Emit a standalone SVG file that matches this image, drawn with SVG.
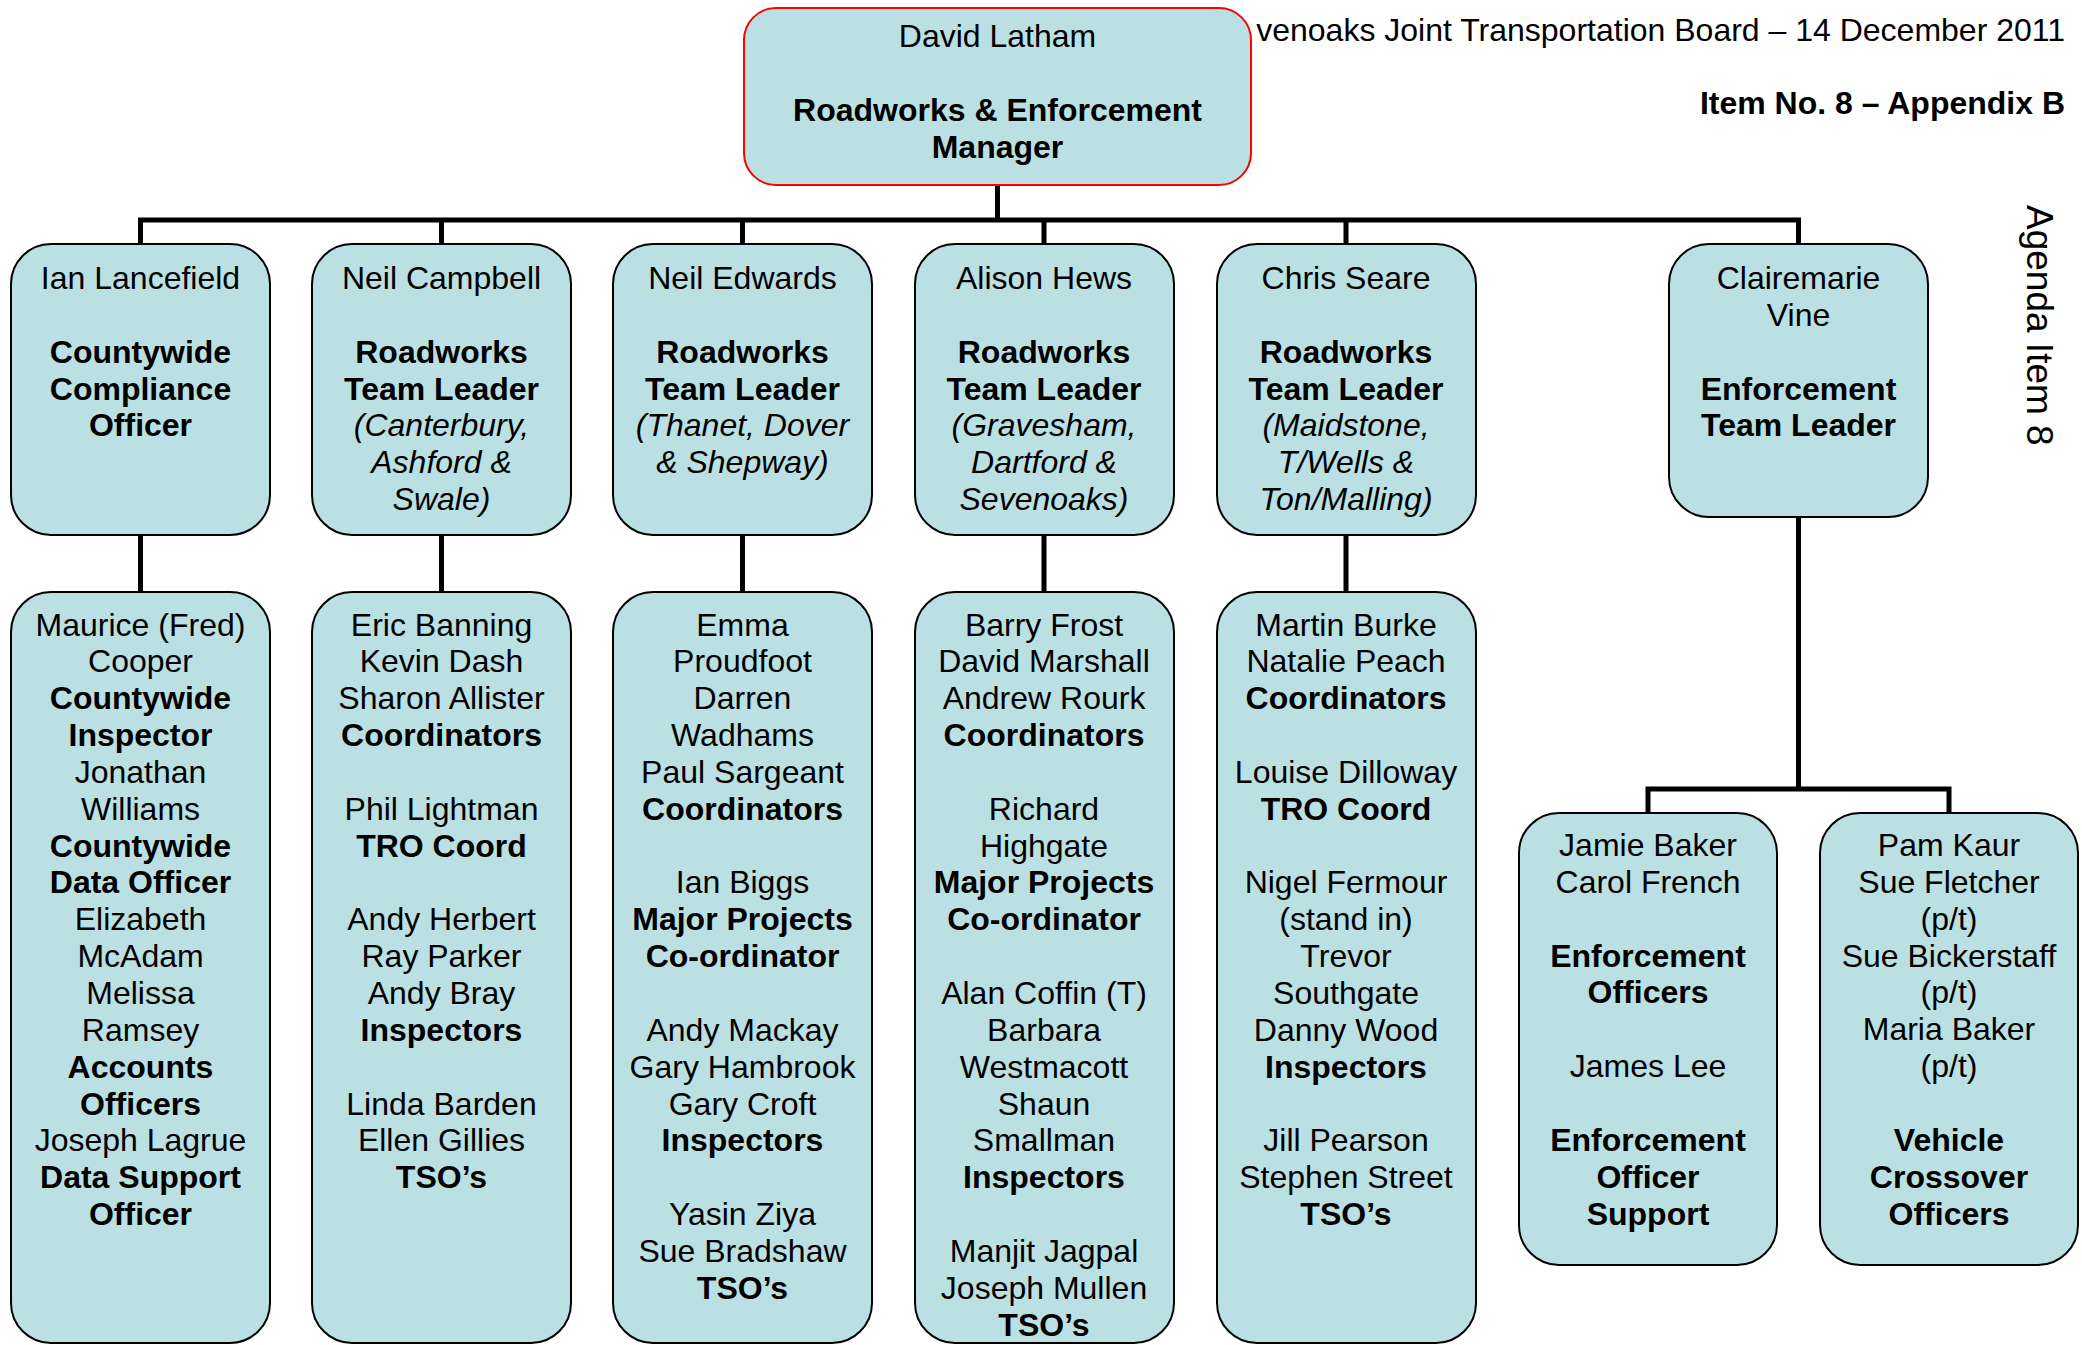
<svg xmlns="http://www.w3.org/2000/svg" width="2082" height="1345" viewBox="0 0 2082 1345">
  <style>
    text { font-family: "Liberation Sans", Arial, sans-serif; font-size: 32px; fill: #000; text-anchor: middle; }
    .hdr { text-anchor: end; }
    .b { font-weight: bold; }
    .i { font-style: italic; }
    .box { fill: #BBE0E3; stroke: #000; stroke-width: 2; }
    .boss { fill: #BBE0E3; stroke: #FF0000; stroke-width: 2; }
    .conn { fill: none; stroke: #000; stroke-width: 5; stroke-linejoin: miter; }
  </style>

  <!-- page header and margin label -->
  <text class="hdr" x="2065" y="41">venoaks Joint Transportation Board – 14 December 2011</text>
  <text class="hdr b" x="2065" y="114">Item No. 8 – Appendix B</text>
  <text x="0" y="0" style="font-size:37px;text-anchor:start" transform="translate(2027,205) rotate(90)">Agenda Item 8</text>

  <!-- connectors -->
  <g id="connectors">
    <path class="conn" d="M997.5,185 V220"/>
    <path class="conn" d="M140.5,244 V220 H1798.5 V244"/>
    <path class="conn" d="M441.5,220 V244 M742.5,220 V244 M1044,220 V244 M1346,220 V244"/>
    <path class="conn" d="M140.5,535 V592 M441.5,535 V592 M742.5,535 V592 M1044,535 V592 M1346,535 V592"/>
    <path class="conn" d="M1798.5,517 V789"/>
    <path class="conn" d="M1648,813 V789 H1949 V813"/>
  </g>

  <!-- manager -->
  <g id="manager">
    <rect class="boss" x="744" y="8" width="507" height="177" rx="32" ry="32"/>
    <text x="997.5" y="47">David Latham</text>
    <text class="b" x="997.5" y="121">Roadworks &amp; Enforcement</text>
    <text class="b" x="997.5" y="158">Manager</text>
  </g>

  <!-- team leaders -->
  <g id="lancefield">
    <rect class="box" x="11" y="244" width="259" height="291" rx="40" ry="40"/>
    <text x="140.5" y="289">Ian Lancefield</text>
    <text class="b" x="140.5" y="362.7">Countywide</text>
    <text class="b" x="140.5" y="399.55">Compliance</text>
    <text class="b" x="140.5" y="436.4">Officer</text>
  </g>
  <g id="campbell">
    <rect class="box" x="312" y="244" width="259" height="291" rx="40" ry="40"/>
    <text x="441.5" y="289">Neil Campbell</text>
    <text class="b" x="441.5" y="362.7">Roadworks</text>
    <text class="b" x="441.5" y="399.55">Team Leader</text>
    <text class="i" x="441.5" y="436.4">(Canterbury,</text>
    <text class="i" x="441.5" y="473.25">Ashford &amp;</text>
    <text class="i" x="441.5" y="510.1">Swale)</text>
  </g>
  <g id="edwards">
    <rect class="box" x="613" y="244" width="259" height="291" rx="40" ry="40"/>
    <text x="742.5" y="289">Neil Edwards</text>
    <text class="b" x="742.5" y="362.7">Roadworks</text>
    <text class="b" x="742.5" y="399.55">Team Leader</text>
    <text class="i" x="742.5" y="436.4">(Thanet, Dover</text>
    <text class="i" x="742.5" y="473.25">&amp; Shepway)</text>
  </g>
  <g id="hews">
    <rect class="box" x="915" y="244" width="259" height="291" rx="40" ry="40"/>
    <text x="1044" y="289">Alison Hews</text>
    <text class="b" x="1044" y="362.7">Roadworks</text>
    <text class="b" x="1044" y="399.55">Team Leader</text>
    <text class="i" x="1044" y="436.4">(Gravesham,</text>
    <text class="i" x="1044" y="473.25">Dartford &amp;</text>
    <text class="i" x="1044" y="510.1">Sevenoaks)</text>
  </g>
  <g id="seare">
    <rect class="box" x="1217" y="244" width="259" height="291" rx="40" ry="40"/>
    <text x="1346" y="289">Chris Seare</text>
    <text class="b" x="1346" y="362.7">Roadworks</text>
    <text class="b" x="1346" y="399.55">Team Leader</text>
    <text class="i" x="1346" y="436.4">(Maidstone,</text>
    <text class="i" x="1346" y="473.25">T/Wells &amp;</text>
    <text class="i" x="1346" y="510.1">Ton/Malling)</text>
  </g>
  <g id="vine">
    <rect class="box" x="1669" y="244" width="259" height="273" rx="40" ry="40"/>
    <text x="1798.5" y="289">Clairemarie</text>
    <text x="1798.5" y="325.85">Vine</text>
    <text class="b" x="1798.5" y="399.55">Enforcement</text>
    <text class="b" x="1798.5" y="436.4">Team Leader</text>
  </g>

  <!-- teams -->
  <g id="compliance-team">
    <rect class="box" x="11" y="592" width="259" height="751" rx="40" ry="40"/>
    <text x="140.5" y="635.5">Maurice (Fred)</text>
    <text x="140.5" y="672.35">Cooper</text>
    <text class="b" x="140.5" y="709.2">Countywide</text>
    <text class="b" x="140.5" y="746.05">Inspector</text>
    <text x="140.5" y="782.9">Jonathan</text>
    <text x="140.5" y="819.75">Williams</text>
    <text class="b" x="140.5" y="856.6">Countywide</text>
    <text class="b" x="140.5" y="893.45">Data Officer</text>
    <text x="140.5" y="930.3">Elizabeth</text>
    <text x="140.5" y="967.15">McAdam</text>
    <text x="140.5" y="1004">Melissa</text>
    <text x="140.5" y="1040.85">Ramsey</text>
    <text class="b" x="140.5" y="1077.7">Accounts</text>
    <text class="b" x="140.5" y="1114.55">Officers</text>
    <text x="140.5" y="1151.4">Joseph Lagrue</text>
    <text class="b" x="140.5" y="1188.25">Data Support</text>
    <text class="b" x="140.5" y="1225.1">Officer</text>
  </g>
  <g id="campbell-team">
    <rect class="box" x="312" y="592" width="259" height="751" rx="40" ry="40"/>
    <text x="441.5" y="635.5">Eric Banning</text>
    <text x="441.5" y="672.35">Kevin Dash</text>
    <text x="441.5" y="709.2">Sharon Allister</text>
    <text class="b" x="441.5" y="746.05">Coordinators</text>
    <text x="441.5" y="819.75">Phil Lightman</text>
    <text class="b" x="441.5" y="856.6">TRO Coord</text>
    <text x="441.5" y="930.3">Andy Herbert</text>
    <text x="441.5" y="967.15">Ray Parker</text>
    <text x="441.5" y="1004">Andy Bray</text>
    <text class="b" x="441.5" y="1040.85">Inspectors</text>
    <text x="441.5" y="1114.55">Linda Barden</text>
    <text x="441.5" y="1151.4">Ellen Gillies</text>
    <text class="b" x="441.5" y="1188.25">TSO’s</text>
  </g>
  <g id="edwards-team">
    <rect class="box" x="613" y="592" width="259" height="751" rx="40" ry="40"/>
    <text x="742.5" y="635.5">Emma</text>
    <text x="742.5" y="672.35">Proudfoot</text>
    <text x="742.5" y="709.2">Darren</text>
    <text x="742.5" y="746.05">Wadhams</text>
    <text x="742.5" y="782.9">Paul Sargeant</text>
    <text class="b" x="742.5" y="819.75">Coordinators</text>
    <text x="742.5" y="893.45">Ian Biggs</text>
    <text class="b" x="742.5" y="930.3">Major Projects</text>
    <text class="b" x="742.5" y="967.15">Co-ordinator</text>
    <text x="742.5" y="1040.85">Andy Mackay</text>
    <text x="742.5" y="1077.7">Gary Hambrook</text>
    <text x="742.5" y="1114.55">Gary Croft</text>
    <text class="b" x="742.5" y="1151.4">Inspectors</text>
    <text x="742.5" y="1225.1">Yasin Ziya</text>
    <text x="742.5" y="1261.95">Sue Bradshaw</text>
    <text class="b" x="742.5" y="1298.8">TSO’s</text>
  </g>
  <g id="hews-team">
    <rect class="box" x="915" y="592" width="259" height="751" rx="40" ry="40"/>
    <text x="1044" y="635.5">Barry Frost</text>
    <text x="1044" y="672.35">David Marshall</text>
    <text x="1044" y="709.2">Andrew Rourk</text>
    <text class="b" x="1044" y="746.05">Coordinators</text>
    <text x="1044" y="819.75">Richard</text>
    <text x="1044" y="856.6">Highgate</text>
    <text class="b" x="1044" y="893.45">Major Projects</text>
    <text class="b" x="1044" y="930.3">Co-ordinator</text>
    <text x="1044" y="1004">Alan Coffin (T)</text>
    <text x="1044" y="1040.85">Barbara</text>
    <text x="1044" y="1077.7">Westmacott</text>
    <text x="1044" y="1114.55">Shaun</text>
    <text x="1044" y="1151.4">Smallman</text>
    <text class="b" x="1044" y="1188.25">Inspectors</text>
    <text x="1044" y="1261.95">Manjit Jagpal</text>
    <text x="1044" y="1298.8">Joseph Mullen</text>
    <text class="b" x="1044" y="1335.65">TSO’s</text>
  </g>
  <g id="seare-team">
    <rect class="box" x="1217" y="592" width="259" height="751" rx="40" ry="40"/>
    <text x="1346" y="635.5">Martin Burke</text>
    <text x="1346" y="672.35">Natalie Peach</text>
    <text class="b" x="1346" y="709.2">Coordinators</text>
    <text x="1346" y="782.9">Louise Dilloway</text>
    <text class="b" x="1346" y="819.75">TRO Coord</text>
    <text x="1346" y="893.45">Nigel Fermour</text>
    <text x="1346" y="930.3">(stand in)</text>
    <text x="1346" y="967.15">Trevor</text>
    <text x="1346" y="1004">Southgate</text>
    <text x="1346" y="1040.85">Danny Wood</text>
    <text class="b" x="1346" y="1077.7">Inspectors</text>
    <text x="1346" y="1151.4">Jill Pearson</text>
    <text x="1346" y="1188.25">Stephen Street</text>
    <text class="b" x="1346" y="1225.1">TSO’s</text>
  </g>
  <g id="enforcement-officers">
    <rect class="box" x="1519" y="813" width="258" height="452" rx="40" ry="40"/>
    <text x="1648" y="856">Jamie Baker</text>
    <text x="1648" y="892.85">Carol French</text>
    <text class="b" x="1648" y="966.55">Enforcement</text>
    <text class="b" x="1648" y="1003.4">Officers</text>
    <text x="1648" y="1077.1">James Lee</text>
    <text class="b" x="1648" y="1150.8">Enforcement</text>
    <text class="b" x="1648" y="1187.65">Officer</text>
    <text class="b" x="1648" y="1224.5">Support</text>
  </g>
  <g id="crossover-officers">
    <rect class="box" x="1820" y="813" width="258" height="452" rx="40" ry="40"/>
    <text x="1949" y="856">Pam Kaur</text>
    <text x="1949" y="892.85">Sue Fletcher</text>
    <text x="1949" y="929.7">(p/t)</text>
    <text x="1949" y="966.55">Sue Bickerstaff</text>
    <text x="1949" y="1003.4">(p/t)</text>
    <text x="1949" y="1040.25">Maria Baker</text>
    <text x="1949" y="1077.1">(p/t)</text>
    <text class="b" x="1949" y="1150.8">Vehicle</text>
    <text class="b" x="1949" y="1187.65">Crossover</text>
    <text class="b" x="1949" y="1224.5">Officers</text>
  </g>
</svg>
